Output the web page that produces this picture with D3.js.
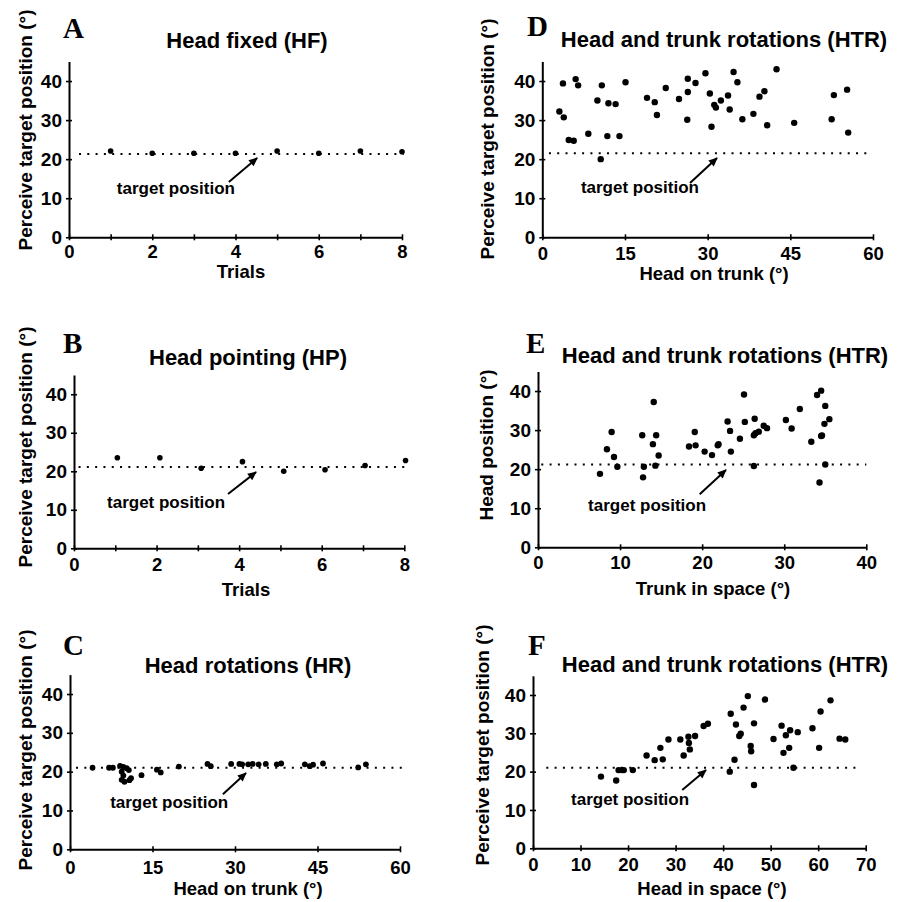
<!DOCTYPE html>
<html><head><meta charset="utf-8">
<script src="https://cdn.jsdelivr.net/npm/d3@7"></script>
<style>
body{margin:0;background:#fff}
svg{display:block}
text{font-family:"Liberation Sans",Arial,Helvetica,sans-serif;font-weight:bold;fill:#000}
.letter{font-family:"Liberation Serif","Times New Roman",serif;font-weight:bold}
</style>
</head><body>
<svg id="chart" width="907" height="902"></svg>
<script>
// ---------------- DATA ----------------
const panelLetters = ["A","B","C","D","E","F"];
const panelTitles = ["Head fixed (HF)","Head pointing (HP)","Head rotations (HR)",
  "Head and trunk rotations (HTR)","Head and trunk rotations (HTR)","Head and trunk rotations (HTR)"];
const yAxisTitles = ["Perceive target position (°)","Perceive target position (°)","Perceive target position (°)",
  "Perceive target position (°)","Head position (°)","Perceive target position (°)"];
const xAxisTitles = ["Trials","Trials","Head on trunk (°)","Head on trunk (°)","Trunk in space (°)","Head in space (°)"];
const annotationText = "target position";
const yTickValues = [0,10,20,30,40];
const yDomain = [0,45];

const xDomains = [[0,8],[0,8],[0,60],[0,60],[0,40],[0,70]];
const xTickValues = [[0,1,2,3,4,5,6,7,8],[0,1,2,3,4,5,6,7,8],[0,15,30,45,60],[0,15,30,45,60],[0,10,20,30,40],[0,10,20,30,40,50,60,70]];
const xTickLabels = [[0,2,4,6,8],[0,2,4,6,8],[0,15,30,45,60],[0,15,30,45,60],[0,10,20,30,40],[0,10,20,30,40,50,60,70]];

// target position (dotted line) value and its x extent
const targetPosition = [21.3,21.1,21.0,21.5,21.2,21.0];
const targetExtent = [[0.24,8.04],[0.11,8.1],[1.1,60.6],[1.2,59.4],[0.4,40],[2.8,69.1]];

// annotation (arrow tail, arrow tip, label start) in data units
const arrowTail = [[3.84,14.15],[3.73,14.1],[27.8,14.2],[26.8,13.9],[19.7,13.6],[31.4,15.2]];
const arrowTip  = [[4.52,20.3],[4.41,19.8],[32.0,19.65],[31.7,20.3],[22.9,19.8],[36.4,20.4]];
const labelPos  = [[1.15,11.1],[0.8,10.5],[7.3,10.6],[7.0,11.3],[6.1,9.3],[8.0,11.3]];

// A: Head fixed
const trialsA = [1,2,3,4,5,6,7,8];
const perceivedA = [22.1,21.5,21.5,21.5,22.1,21.5,22.1,21.9];
// B: Head pointing
const trialsB = [1.05,2.08,3.08,4.08,5.08,6.08,7.05,8.03];
const perceivedB = [23.5,23.5,20.8,22.5,20.0,20.4,21.5,22.8];
// C: Head rotations
const headOnTrunkC = [4.1,7.1,7.8,9.1,9.7,10.3,10.7,9.4,9.7,9.4,9.9,10.8,11.1,13.0,15.8,16.5,19.8,25.0,25.6,29.3,30.8,31.3,32.4,33.2,34.3,35.6,37.6,38.4,42.7,43.6,44.2,46.0,52.4,53.8];
const perceivedC   = [21.0,21.0,21.0,21.5,21.2,20.9,20.4,20.0,19.0,17.9,17.4,17.8,18.3,19.1,20.5,19.8,21.3,22.0,21.4,22.0,22.0,21.9,21.9,22.0,21.9,22.0,21.9,22.1,21.9,21.4,21.8,22.1,21.1,21.9];
// D: Head and trunk rotations, head on trunk
const headOnTrunkD = [3.1,3.75,3.9,4.8,5.7,6.05,6.5,8.35,10.0,10.6,10.8,11.8,12.0,13.3,14.0,15.1,19.0,20.4,20.8,22.4,24.8,26.3,26.4,26.4,27.8,29.6,30.4,30.7,31.2,31.5,32.4,33.7,34.0,34.7,35.4,36.3,38.3,39.4,40.3,40.8,42.5,45.7,52.5,52.9,55.3,55.5];
const perceivedD   = [32.2,39.4,30.7,24.9,24.7,40.5,38.9,26.5,35.0,20.0,38.9,25.9,34.3,34.1,25.9,39.7,35.7,34.6,31.3,38.2,35.4,30.1,37.2,40.6,39.5,42.0,36.8,28.3,33.9,33.2,35.0,36.3,32.7,42.3,39.7,30.2,31.6,36.0,37.4,28.7,43.0,29.3,30.2,36.4,37.8,26.8];
// E: Head and trunk rotations, trunk in space
const trunkInSpaceE = [7.55,8.4,8.97,9.26,9.67,12.7,12.8,12.9,14.0,14.1,14.3,14.4,14.7,18.4,19.1,19.2,20.3,21.2,21.9,22.0,23.1,23.4,23.5,24.6,25.1,25.2,26.3,26.4,26.3,26.5,26.9,27.5,27.9,30.2,30.9,31.9,33.3,34.0,34.5,34.3,34.5,34.6,34.9,35.0,35.0,35.5];
const headPositionE = [18.8,25.1,29.5,23.1,20.6,28.7,17.9,20.6,26.4,37.2,20.9,28.7,23.5,25.8,29.5,26.1,24.5,23.6,26.1,26.4,32.2,29.8,24.5,27.8,39.1,32.1,20.8,32.9,28.7,29.2,29.6,31.1,30.5,32.6,30.4,35.4,27.0,39.0,40.1,16.6,28.5,28.6,31.6,36.2,21.2,32.8];
// F: Head and trunk rotations, head in space
const headInSpaceF = [14.3,17.5,18.0,18.7,19.1,21.0,23.9,25.6,26.8,27.3,28.5,31.0,31.7,32.7,32.8,33.0,34.1,35.9,36.8,41.4,41.6,42.4,42.7,43.4,43.7,44.3,45.2,45.8,45.9,46.5,46.5,48.8,50.6,52.3,52.7,53.2,53.9,54.1,54.8,55.7,58.8,60.2,60.5,62.6,64.5,65.7];
const perceivedF   = [18.7,17.7,20.4,20.4,20.4,20.4,24.2,23.0,26.2,23.2,28.4,28.4,24.2,29.1,27.5,25.8,29.3,31.9,32.5,20.0,35.1,23.1,32.3,29.3,29.9,36.7,39.7,26.7,25.3,32.6,16.5,38.8,28.5,32.0,24.9,29.5,26.2,30.8,21.0,30.3,31.3,26.2,35.7,38.6,28.6,28.4];

const xSeries = [trialsA,trialsB,headOnTrunkC,headOnTrunkD,trunkInSpaceE,headInSpaceF];
const ySeries = [perceivedA,perceivedB,perceivedC,perceivedD,headPositionE,perceivedF];

// ---------------- LAYOUT ----------------
const layout = [
  {left:69, right:402, bottom:237.3, top:61.5, tickLab:21, letter:[63,38], title:[247,48], ylab:[32,130], xlab:[241,277.5], r:2.8},
  {left:74, right:404.3, bottom:548.3, top:375, tickLab:23, letter:[63,353], title:[248,365], ylab:[32,447], xlab:[246,596], r:2.8},
  {left:70, right:400, bottom:849.3, top:674.6, tickLab:24.5, letter:[63,655], title:[248,673], ylab:[32,750], xlab:[248,895], r:2.9},
  {left:542.3, right:873, bottom:237.3, top:61.5, tickLab:22.5, letter:[527,36], title:[724,47], ylab:[494,139], xlab:[714,280], r:3.2},
  {left:538, right:866.3, bottom:547.3, top:371.5, tickLab:22, letter:[526,353], title:[725,363], ylab:[493,445], xlab:[713,595], r:3.2},
  {left:533, right:865.7, bottom:848.3, top:675.8, tickLab:23, letter:[528,655], title:[725,672], ylab:[489,745], xlab:[712,895], r:3.2}
];

const svg = d3.select("#chart");
svg.append("rect").attr("width",907).attr("height",902).attr("fill","#fff");

const defs = svg.append("defs");
defs.append("marker").attr("id","arrowhead")
  .attr("viewBox","0 0 10 10").attr("refX",9).attr("refY",5)
  .attr("markerUnits","userSpaceOnUse").attr("markerWidth",11).attr("markerHeight",9)
  .attr("orient","auto")
  .append("path").attr("d","M0,0.5 L10,5 L0,9.5 Z").attr("fill","#000");

layout.forEach((L,i)=>{
  const g = svg.append("g");
  const x = d3.scaleLinear().domain(xDomains[i]).range([L.left,L.right]);
  const y = d3.scaleLinear().domain(yDomain).range([L.bottom,L.top]);

  // y axis
  const ya = g.append("g").attr("transform",`translate(${L.left},0)`)
    .call(d3.axisLeft(y).tickValues(yTickValues).tickSize(3).tickSizeOuter(0).tickPadding(4).tickFormat(d3.format("d")));
  ya.select(".domain").attr("stroke","#000").attr("stroke-width",2);
  ya.selectAll(".tick line").attr("x1",3).attr("stroke-width",1.6);
  ya.selectAll(".tick text").attr("font-size",19).attr("font-family",null);

  // x axis
  const labs = new Set(xTickLabels[i]);
  const xa = g.append("g").attr("transform",`translate(0,${L.bottom})`)
    .call(d3.axisBottom(x).tickValues(xTickValues[i]).tickSize(3).tickSizeOuter(0).tickPadding(0)
      .tickFormat(d=>labs.has(d)?d3.format("d")(d):""));
  xa.select(".domain").attr("stroke","#000").attr("stroke-width",2);
  xa.selectAll(".tick line").attr("y1",-3).attr("stroke-width",1.6);
  xa.selectAll(".tick text").attr("font-size",18.5).attr("font-family",null).attr("dy",null).attr("y",L.tickLab);

  // target dotted line
  g.append("line")
    .attr("x1",x(targetExtent[i][0])).attr("x2",x(targetExtent[i][1]))
    .attr("y1",y(targetPosition[i])).attr("y2",y(targetPosition[i]))
    .attr("stroke","#000").attr("stroke-width",2).attr("stroke-dasharray","2,6.3");

  // points
  g.selectAll("circle.pt").data(xSeries[i].map((v,k)=>[v,ySeries[i][k]])).join("circle")
    .attr("class","pt").attr("cx",d=>x(d[0])).attr("cy",d=>y(d[1])).attr("r",L.r).attr("fill","#000");

  // annotation
  g.append("line")
    .attr("x1",x(arrowTail[i][0])).attr("y1",y(arrowTail[i][1]))
    .attr("x2",x(arrowTip[i][0])).attr("y2",y(arrowTip[i][1]))
    .attr("stroke","#000").attr("stroke-width",2).attr("marker-end","url(#arrowhead)");
  g.append("text").attr("x",x(labelPos[i][0])).attr("y",y(labelPos[i][1]))
    .attr("font-size",17).text(annotationText);

  // titles
  g.append("text").attr("class","letter").attr("x",L.letter[0]).attr("y",L.letter[1])
    .attr("font-size",29).text(panelLetters[i]);
  g.append("text").attr("x",L.title[0]).attr("y",L.title[1]).attr("text-anchor","middle")
    .attr("font-size",22).text(panelTitles[i]);
  g.append("text").attr("transform",`translate(${L.ylab[0]},${L.ylab[1]}) rotate(-90)`)
    .attr("text-anchor","middle").attr("font-size",19).text(yAxisTitles[i]);
  g.append("text").attr("x",L.xlab[0]).attr("y",L.xlab[1]).attr("text-anchor","middle")
    .attr("font-size",18.5).text(xAxisTitles[i]);
});
</script>
</body></html>
